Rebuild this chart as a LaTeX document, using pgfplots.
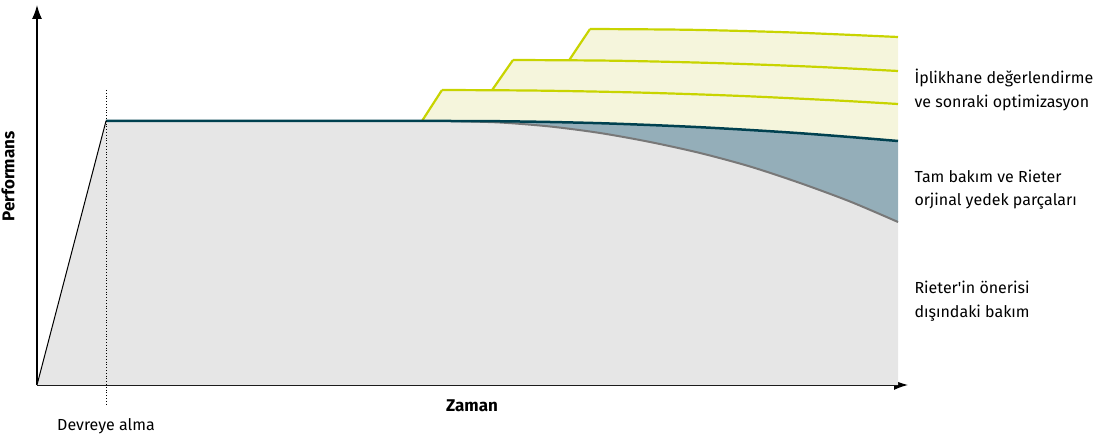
\documentclass[border=0pt]{standalone}
\usepackage{pgfplots}
\pgfplotsset{compat=1.18}
\usepackage{fontspec}
\setmainfont{Fira Sans}
\usetikzlibrary{arrows.meta}
\definecolor{grayfill}{RGB}{230,230,230}
\definecolor{grayline}{RGB}{120,120,120}
\definecolor{tealfill}{RGB}{148,174,185}
\definecolor{tealline}{RGB}{0,65,80}
\definecolor{yelfill}{RGB}{245,245,220}
\definecolor{yelline}{RGB}{200,212,0}
\newcommand{\lbl}{\fontsize{16}{23.5}\selectfont}
\newcommand{\blbl}{\fontsize{17}{23.5}\selectfont\bfseries}
\begin{document}
\begin{tikzpicture}[x=1pt,y=1pt]
\useasboundingbox (-37,-52) rectangle (1061,385);
\begin{axis}[at={(0,0)}, anchor=south west,
  x=1pt, y=1pt, xmin=0, xmax=871, ymin=0, ymax=380,
  axis lines=left, ticks=none, clip=false,
  axis line style={line width=1.3pt, -{Latex[length=14pt,width=10pt]}}]
% gray fill
\addplot[fill=grayfill, draw=none] coordinates {
 (0,0) (69,264) (413,264) (463,262.5) (513,258.5) (563,252) (613,243) (663,232) (713,218.5) (763,202) (813,183.5) (861,163) (861,0)} -- cycle;
% teal fill
\addplot[fill=tealfill, draw=none] coordinates {
 (413,264) (463,263.75) (513,263) (563,261.8) (613,260) (663,257.8) (713,255) (763,251.8) (813,248) (861,244)
 (861,163) (813,183.5) (763,202) (713,218.5) (663,232) (613,243) (563,252) (513,258.5) (463,262.5) (413,264)} -- cycle;
% yellow fill
\addplot[fill=yelfill, draw=none] coordinates {
 (385,264) (405,295) (455,294.8) (476,325) (532,324.6) (553,356) (653,355.2) (753,352.6) (861,348)
 (861,244) (813,248) (763,251.8) (713,255) (663,257.8) (613,260) (563,261.8) (513,263) (463,263.75) (413,264)} -- cycle;
% gray curve
\addplot[draw=grayline, line width=2pt, smooth] coordinates {
 (413,264) (463,262.5) (513,258.5) (563,252) (613,243) (663,232) (713,218.5) (763,202) (813,183.5) (861,163)};
% ramp
\addplot[draw=black, line width=1pt] coordinates {(0,0) (69,264)};
% yellow lines
\addplot[draw=yelline, line width=2.2pt, smooth] coordinates {
 (405,295) (500,294.4) (600,292.5) (700,289.2) (800,284.5) (861,281)};
\addplot[draw=yelline, line width=2.2pt] coordinates {(385,264) (405,295)};
\addplot[draw=yelline, line width=2.2pt, smooth] coordinates {
 (476,325) (576,324.3) (676,322) (776,318.3) (861,314)};
\addplot[draw=yelline, line width=2.2pt] coordinates {(455,294.8) (476,325)};
\addplot[draw=yelline, line width=2.2pt, smooth] coordinates {
 (553,356) (653,355.2) (753,352.6) (861,348)};
\addplot[draw=yelline, line width=2.2pt] coordinates {(532,324.6) (553,356)};
% teal line
\addplot[draw=tealline, line width=2.5pt, smooth] coordinates {
 (69,264) (413,264) (463,263.75) (513,263) (563,261.8) (613,260) (663,257.8) (713,255) (763,251.8) (813,248) (861,244)};
% dotted
\addplot[draw=black, line width=0.8pt, dotted] coordinates {(69,295) (69,-20)};
% labels
\node[rotate=90, font=\blbl] at (-29,208.5) {Performans};
\node[font=\blbl] at (435,-20.5) {Zaman};
\node[font=\lbl] at (69,-41) {Devreye alma};
\node[font=\lbl, anchor=west, align=left] at (874,295) {İplikhane değerlendirme\\ve sonraki optimizasyon};
\node[font=\lbl, anchor=west, align=left] at (874,195.5) {Tam bakım ve Rieter\\orjinal yedek parçaları};
\node[font=\lbl, anchor=west, align=left] at (874,84) {Rieter\textquotesingle in önerisi\\dışındaki bakım};
\end{axis}
\end{tikzpicture}
\end{document}
